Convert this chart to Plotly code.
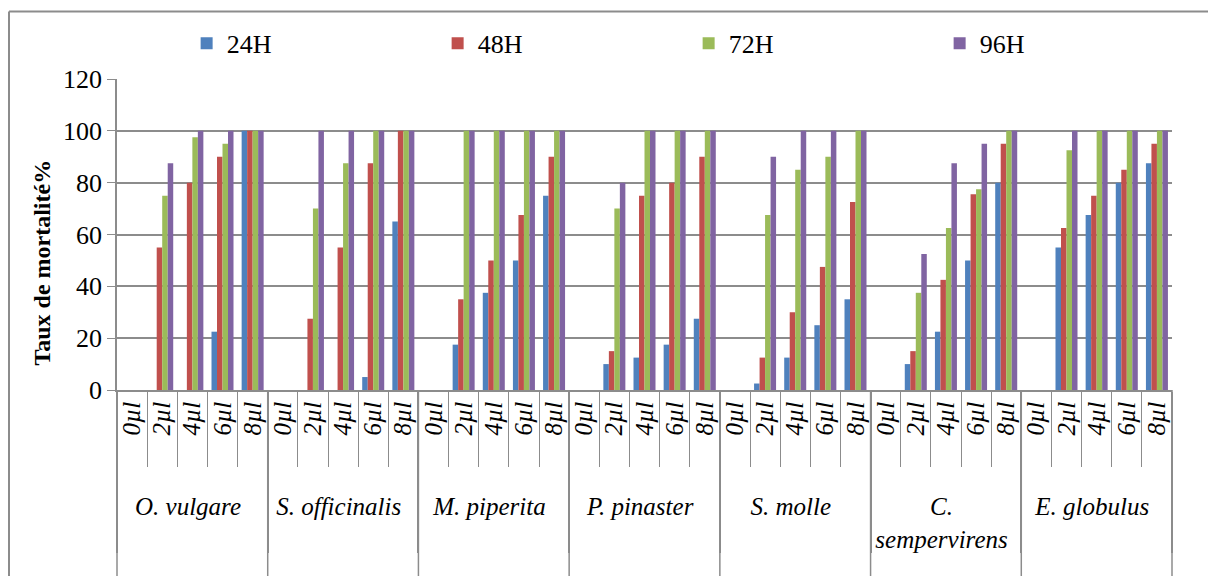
import plotly.graph_objects as go

# species (outer level) and doses (inner level)
species = ["O. vulgare", "S. officinalis", "M. piperita", "P. pinaster",
           "S. molle", "C.<br>sempervirens", "E. globulus"]
doses = ["0µl", "2µl", "4µl", "6µl", "8µl"]

# mortality (%) per species, 5 doses each
h24 = [0, 0, 0, 22.5, 100,
       0, 0, 0, 5, 65,
       0, 17.5, 37.5, 50, 75,
       0, 10, 12.5, 17.5, 27.5,
       0, 2.5, 12.5, 25, 35,
       0, 10, 22.5, 50, 80,
       0, 55, 67.5, 80, 87.5]
h48 = [0, 55, 80, 90, 100,
       0, 27.5, 55, 87.5, 100,
       0, 35, 50, 67.5, 90,
       0, 15, 75, 80, 90,
       0, 12.5, 30, 47.5, 72.5,
       0, 15, 42.5, 75.5, 95,
       0, 62.5, 75, 85, 95]
h72 = [0, 75, 97.5, 95, 100,
       0, 70, 87.5, 100, 100,
       0, 100, 100, 100, 100,
       0, 70, 100, 100, 100,
       0, 67.5, 85, 90, 100,
       0, 37.5, 62.5, 77.5, 100,
       0, 92.5, 100, 100, 100]
h96 = [0, 87.5, 100, 100, 100,
       0, 100, 100, 100, 100,
       0, 100, 100, 100, 100,
       0, 80, 100, 100, 100,
       0, 90, 100, 100, 100,
       0, 52.5, 87.5, 95, 100,
       0, 100, 100, 100, 100]

series = [("24H", h24, "#4F81BD"), ("48H", h48, "#C0504D"),
          ("72H", h72, "#9BBB59"), ("96H", h96, "#8064A2")]

# outer labels get a leading blank line so they sit lower, as in the original
outer = ["<br>" + s for s in species for d in doses]
inner = [d for s in species for d in doses]

grey = "#8C8C8C"
serif = "Liberation Serif, Times New Roman, serif"

fig = go.Figure()
for name, vals, col in series:
    fig.add_trace(go.Bar(x=[outer, inner], y=vals, name=name,
                         marker=dict(color=col, line=dict(width=0))))

# page body has an 8px margin, so the figure is drawn 8px smaller
fig.update_layout(
    width=1208, height=568,
    margin=dict(l=109, r=44, t=69, b=186),
    paper_bgcolor="white", plot_bgcolor="white",
    barmode="group", bargap=0.27, bargroupgap=0,
    font=dict(family=serif, size=26, color="black"),
    legend=dict(orientation="h", x=0.066, y=1.115, xanchor="left", yanchor="middle",
                entrywidth=206, entrywidthmode="pixels", bgcolor="rgba(0,0,0,0)",
                font=dict(family=serif, size=26)),
    showlegend=True,
)
fig.update_yaxes(range=[0, 120], dtick=20, showgrid=True, gridcolor=grey, gridwidth=1.5,
                 showline=True, linecolor=grey, linewidth=1.5,
                 ticks="outside", ticklen=8, tickcolor=grey,
                 tickfont=dict(family=serif, size=26),
                 zeroline=False)
fig.update_xaxes(showline=True, linecolor=grey, linewidth=1.5,
                 tickmode="linear", tick0=0, dtick=1,
                 ticks="outside", tickson="boundaries", ticklen=75, tickcolor=grey,
                 tickangle=-90,
                 tickfont=dict(family=serif, size=25, style="italic"),
                 showdividers=True, dividercolor=grey, dividerwidth=1.5)

# y axis title (sits a little below the plot centre in the original)
fig.add_annotation(text="<b>Taux de mortalité%</b>", textangle=-90,
                   xref="paper", yref="paper", x=-0.071, y=0.41,
                   xanchor="center", yanchor="middle", showarrow=False,
                   font=dict(family=serif, size=24))

# group dividers run down to the bottom of the chart
n_groups = len(species)
for k in range(n_groups + 1):
    fig.add_shape(type="line", xref="paper", yref="paper",
                  x0=k / n_groups, x1=k / n_groups, y0=0, y1=-0.7,
                  line=dict(color=grey, width=1.5))

# outer chart border (only left and top edges fall inside the picture)
top = 1 + 68 / 313
left = -108 / 1055
fig.add_shape(type="line", xref="paper", yref="paper",
              x0=left, x1=1.2, y0=top, y1=top, line=dict(color=grey, width=2))
fig.add_shape(type="line", xref="paper", yref="paper",
              x0=left, x1=left, y0=top, y1=-0.8, line=dict(color=grey, width=2))

fig.write_html("out.html")
